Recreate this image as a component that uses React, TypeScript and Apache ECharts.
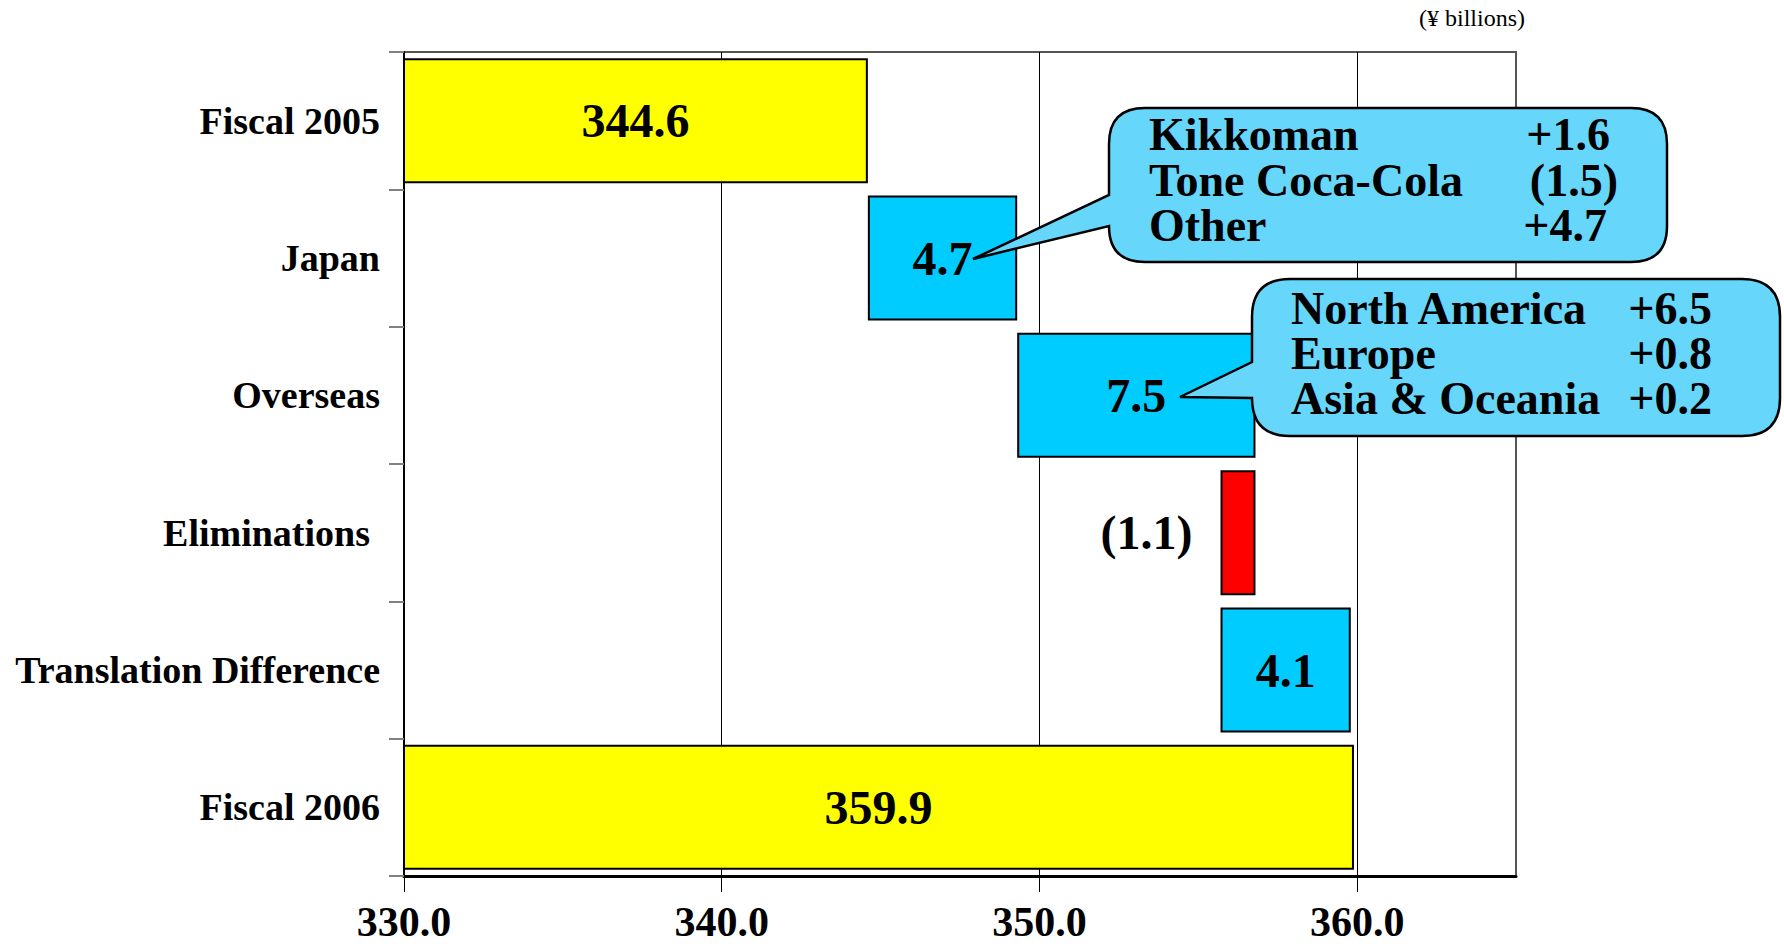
import React, { useEffect, useRef } from 'react';
import * as echarts from 'echarts';

// ---------------- data ----------------
const categories = ['Fiscal 2005', 'Japan', 'Overseas', 'Eliminations', 'Translation Difference', 'Fiscal 2006'];
const startTotal = 344.6;
const endTotal = 359.9;
const changes = [4.7, 7.5, -1.1, 4.1];
const xTicks = [330, 340, 350, 360];
const japanItems = ['Kikkoman', 'Tone Coca-Cola', 'Other'];
const japanValues = ['+1.6', '(1.5)', '+4.7'];
const overseasItems = ['North America', 'Europe', 'Asia & Oceania'];
const overseasValues = ['+6.5', '+0.8', '+0.2'];
const unitLabel = '(¥ billions)';

const FONT = '"Liberation Serif", "Times New Roman", Times, serif';
const YELLOW = '#FFFF00';
const CYAN = '#00CCFF';
const RED = '#FF0000';
const BUBBLE = '#66D6FA';

function roundedCallout(L: number, T: number, R: number, B: number, r: number, tipX: number, tipY: number, y1: number, y2: number) {
  return `M ${L + r} ${T} H ${R - r} Q ${R} ${T} ${R} ${T + r} V ${B - r} Q ${R} ${B} ${R - r} ${B} H ${L + r} Q ${L} ${B} ${L} ${B - r} V ${y2} L ${tipX} ${tipY} L ${L} ${y1} V ${T + r} Q ${L} ${T} ${L + r} ${T} Z`;
}

let registered = false;
function registerShapes() {
  if (registered) return;
  registered = true;
  echarts.graphic.registerShape('calloutJapan', echarts.graphic.extendPath(roundedCallout(1109, 108, 1667, 262, 36, 973, 259, 195, 226), {}) as any);
  echarts.graphic.registerShape('calloutOverseas', echarts.graphic.extendPath(roundedCallout(1252, 279, 1780, 436, 38, 1180, 397, 362, 398), {}) as any);
}

export default function App() {
  const ref = useRef<HTMLDivElement>(null);

  useEffect(() => {
    document.body.style.margin = '0';
    registerShapes();
    const chart = echarts.init(ref.current!, null, { renderer: 'svg' });

    const r1 = (v: number) => Math.round(v * 10) / 10;
    const base: number[] = [0];
    const lengths: number[] = [startTotal];
    const labels: string[] = [startTotal.toFixed(1)];
    const colors: string[] = [YELLOW];
    let running = startTotal;
    changes.forEach((c) => {
      if (c >= 0) {
        base.push(r1(running));
        lengths.push(c);
        running += c;
        colors.push(CYAN);
        labels.push(c.toFixed(1));
      } else {
        running += c;
        base.push(r1(running));
        lengths.push(-c);
        colors.push(RED);
        labels.push(`(${Math.abs(c).toFixed(1)})`);
      }
    });
    base.push(0);
    lengths.push(endTotal);
    colors.push(YELLOW);
    labels.push(endTotal.toFixed(1));

    const visibleData = lengths.map((v, i) => {
      const item: any = { value: v, itemStyle: { color: colors[i] } };
      if (changes[i - 1] !== undefined && changes[i - 1] < 0) {
        item.label = { position: 'left', distance: 28 };
      }
      return item;
    });

    const textLine = (x: number, y: number, text: string, align: string) => ({
      type: 'text',
      x,
      y,
      style: {
        text,
        fill: '#000',
        fontFamily: FONT,
        fontSize: 46,
        lineHeight: 42,
        fontWeight: 'bold',
        align,
        verticalAlign: 'middle',
      },
      z: 110,
    });

    const japanY = [134, 180, 225];
    const japanRight = [1610, 1618, 1607];
    const overseasY = [308, 353, 398];

    const graphic: any[] = [
      {
        type: 'text',
        x: 1472,
        y: 18,
        style: { text: unitLabel, fill: '#000', fontFamily: FONT, fontSize: 24, align: 'center', verticalAlign: 'middle' },
      },
      {
        type: 'calloutJapan',
        x: 0,
        y: 0,
        style: { fill: BUBBLE, stroke: '#000', lineWidth: 2.5 },
        z: 100,
      },
      {
        type: 'calloutOverseas',
        x: 0,
        y: 0,
        style: { fill: BUBBLE, stroke: '#000', lineWidth: 2.5 },
        z: 100,
      },
      ...japanItems.map((t, i) => textLine(1149, japanY[i], t, 'left')),
      ...japanValues.map((t, i) => textLine(japanRight[i], japanY[i], t, 'right')),
      ...overseasItems.map((t, i) => textLine(1291, overseasY[i], t, 'left')),
      ...overseasValues.map((t, i) => textLine(1712, overseasY[i], t, 'right')),
    ];

    chart.setOption({
      animation: false,
      backgroundColor: '#fff',
      grid: {
        left: 404,
        right: 268,
        top: 52,
        bottom: 73,
        show: true,
        borderColor: '#555',
        borderWidth: 2,
        backgroundColor: 'transparent',
      },
      xAxis: {
        type: 'value',
        min: 330,
        max: 365,
        interval: 10,
        axisLine: { show: true, onZero: false, lineStyle: { color: '#000', width: 3 } },
        axisTick: { show: true, length: 16, customValues: xTicks, lineStyle: { color: '#000', width: 1 } },
        axisLabel: {
          customValues: xTicks,
          formatter: (v: number) => v.toFixed(1),
          color: '#000',
          fontFamily: FONT,
          fontSize: 42,
          lineHeight: 42,
          fontWeight: 'bold',
          margin: 25,
        },
        splitLine: { show: true, lineStyle: { color: '#000', width: 1 } },
      },
      yAxis: {
        type: 'category',
        data: categories,
        inverse: true,
        axisLine: { show: true, lineStyle: { color: '#000', width: 2 } },
        axisTick: { show: true, length: 15, lineStyle: { color: '#808080', width: 2 } },
        axisLabel: {
          color: '#000',
          fontFamily: FONT,
          fontSize: 38,
          fontWeight: 'bold',
          margin: 24,
          formatter: (v: string) => (v === 'Eliminations' ? `{e|${v}}` : v),
          rich: {
            e: { fontFamily: FONT, fontSize: 38, fontWeight: 'bold', color: '#000', padding: [0, 10, 0, 0] },
          },
        },
        splitLine: { show: false },
      },
      series: [
        {
          type: 'bar',
          name: 'base',
          stack: 'w',
          data: base,
          itemStyle: { color: 'transparent', borderColor: 'transparent' },
          barCategoryGap: '9%',
          silent: true,
        },
        {
          type: 'bar',
          name: 'value',
          stack: 'w',
          data: visibleData,
          barCategoryGap: '9%',
          itemStyle: { borderColor: '#000', borderWidth: 2 },
          label: {
            show: true,
            position: 'inside',
            formatter: (p: any) => labels[p.dataIndex],
            color: '#000',
            fontFamily: FONT,
            fontSize: 48,
            fontWeight: 'bold',
          },
        },
      ],
      graphic,
    });

    return () => chart.dispose();
  }, []);

  return <div ref={ref} style={{ width: 1784, height: 949 }} />;
}
